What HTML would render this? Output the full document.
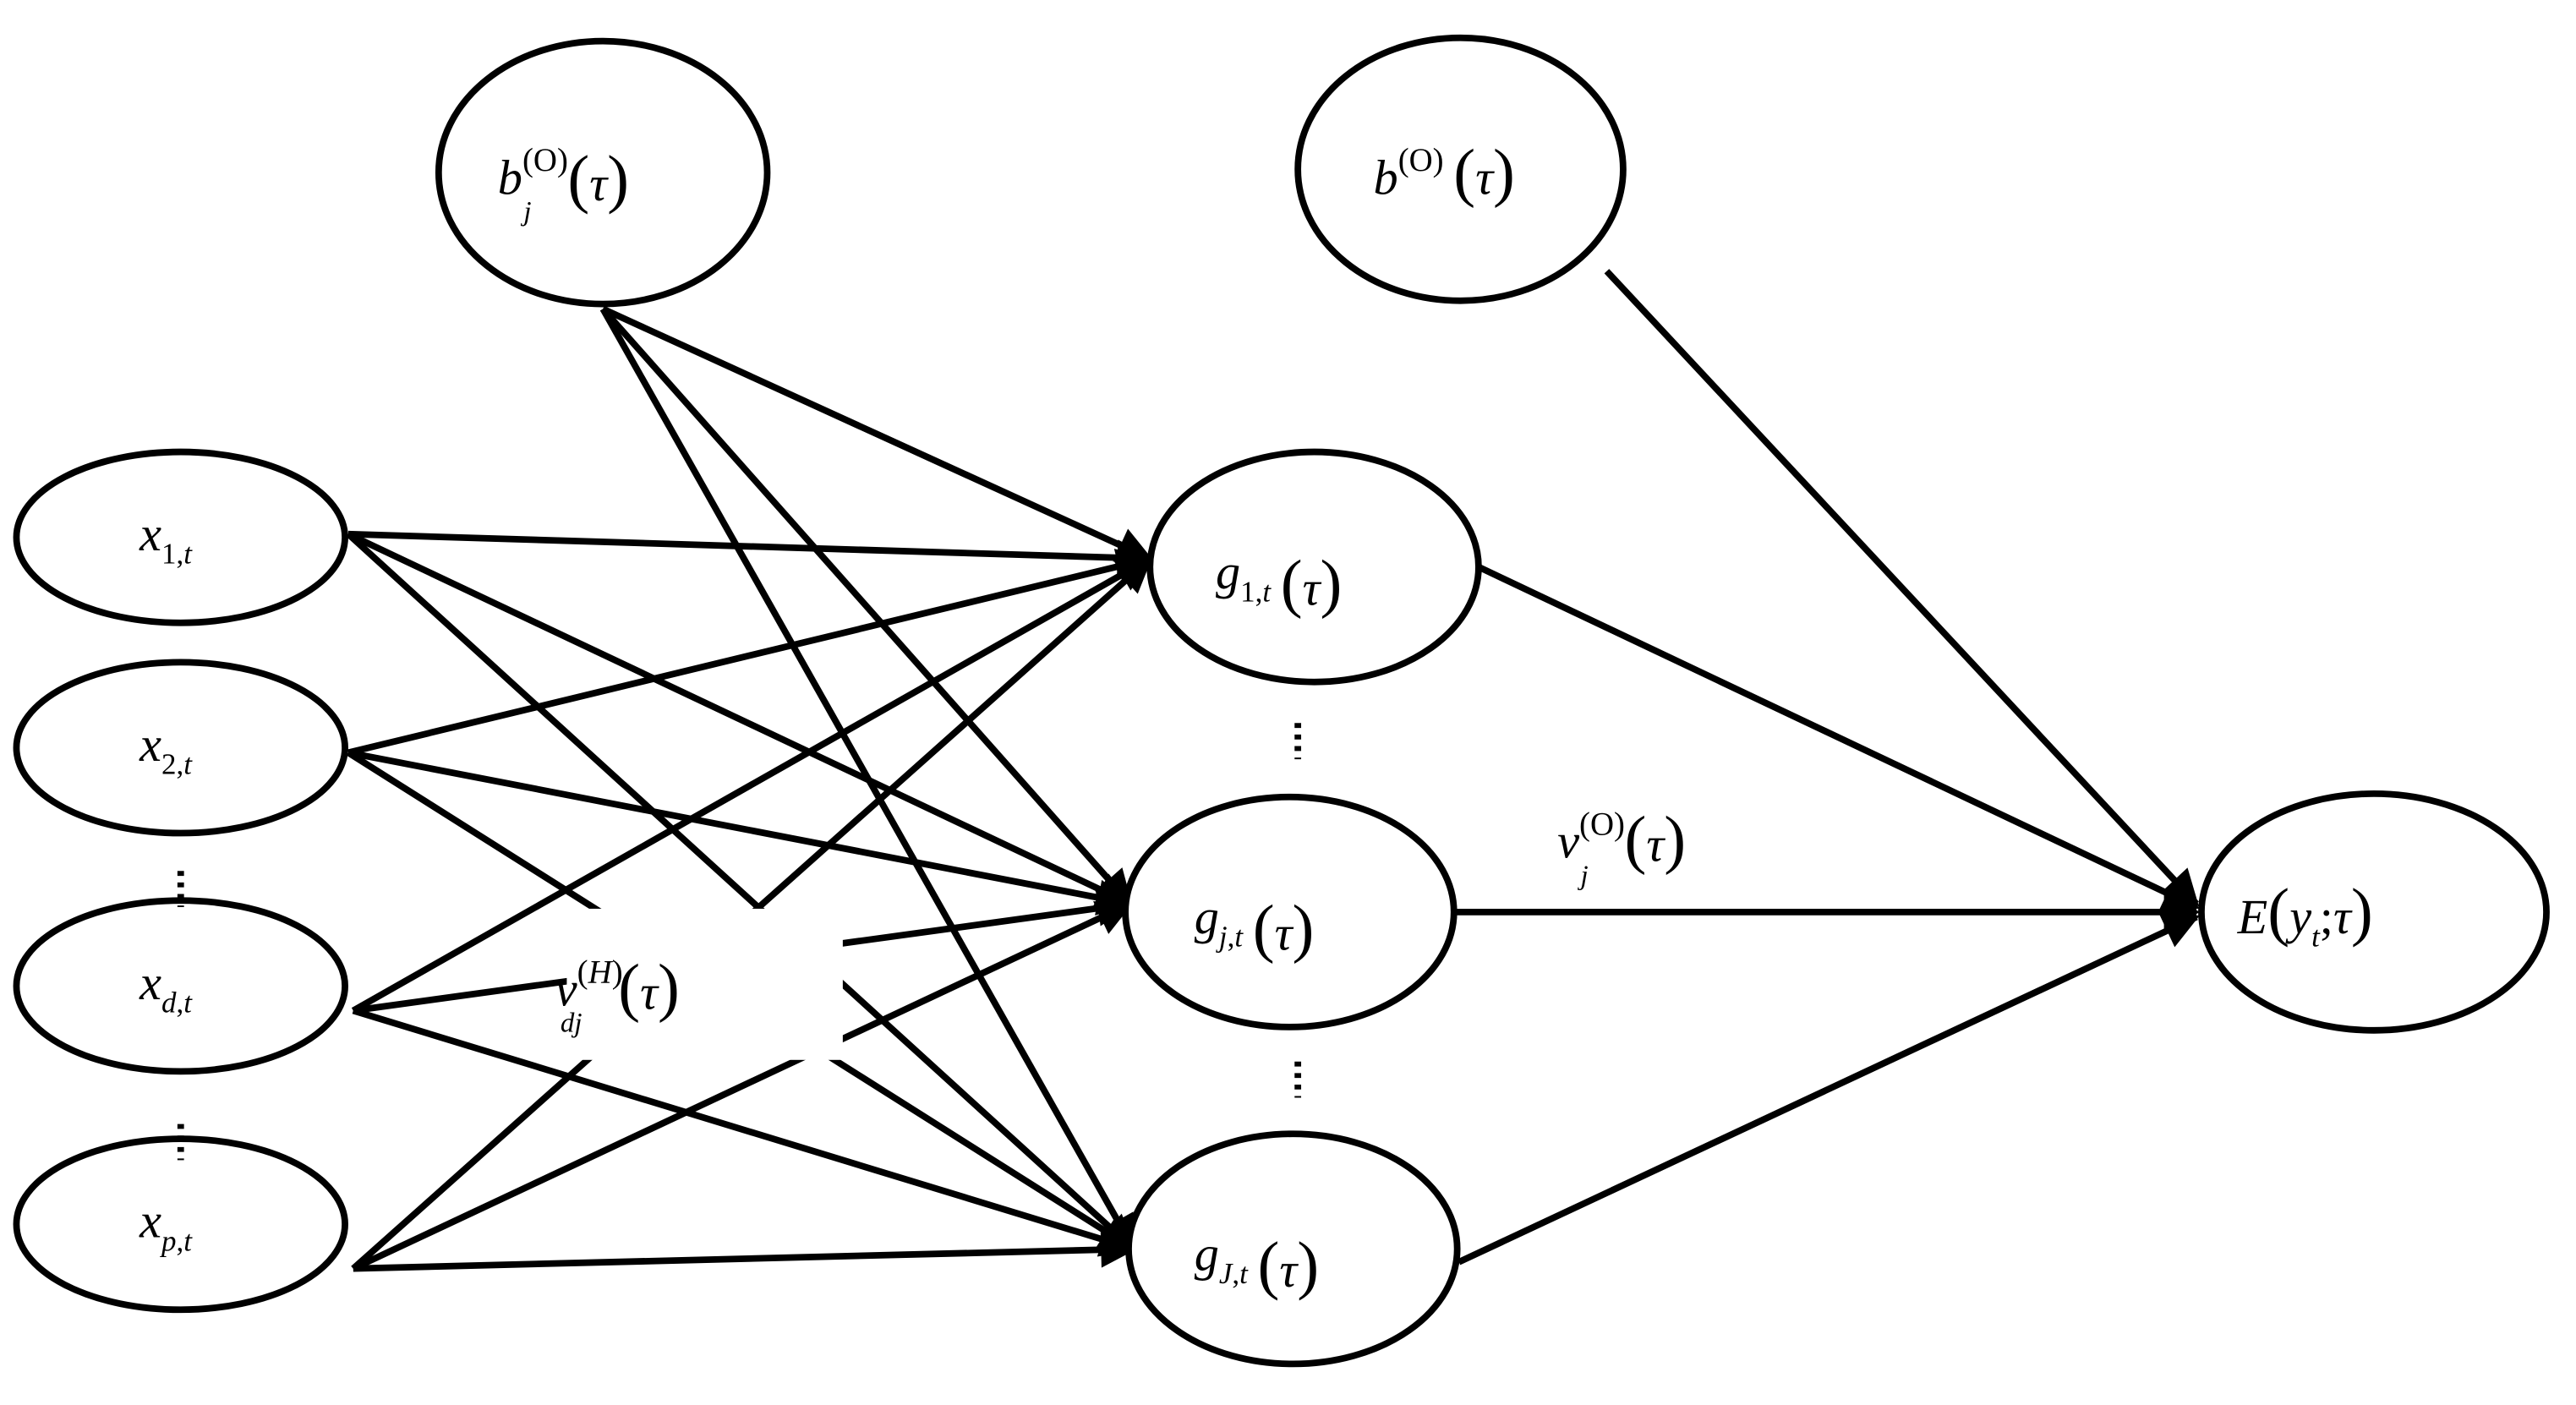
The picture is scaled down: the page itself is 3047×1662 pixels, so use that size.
<!DOCTYPE html>
<html><head><meta charset="utf-8"><style>
html,body{margin:0;padding:0;background:#fff;}
svg{display:block;}
text{font-family:"Liberation Serif",serif;font-style:italic;fill:#000;}
.n{font-style:normal;}
</style></head><body>
<svg width="3047" height="1662" viewBox="0 0 1568 855" preserveAspectRatio="none" xmlns="http://www.w3.org/2000/svg">
<defs>
<marker id="a" markerWidth="10" markerHeight="10" refX="9" refY="5" orient="auto" markerUnits="userSpaceOnUse" viewBox="0 0 10 10">
<path d="M0,0 L10,5 L0,10 z" fill="#000"/>
</marker>
<marker id="A" viewBox="0 0 10 10" refX="9" refY="5" markerWidth="26" markerHeight="22" orient="auto" markerUnits="userSpaceOnUse">
<path d="M0,0 L10,5 L0,10 z" fill="#000"/>
</marker>
</defs>
<g stroke="#000" stroke-width="4" fill="none" marker-end="url(#A)">
<!-- bias j to g -->
<line x1="367" y1="188" x2="700" y2="340"/>
<line x1="367" y1="188" x2="688" y2="550"/>
<line x1="367" y1="188" x2="690" y2="760"/>
<!-- x1 -->
<line x1="212" y1="325" x2="700" y2="340"/>
<line x1="212" y1="325" x2="688" y2="550"/>
<line x1="212" y1="325" x2="690" y2="760"/>
<!-- x2 -->
<line x1="212" y1="458" x2="700" y2="340"/>
<line x1="212" y1="458" x2="688" y2="550"/>
<line x1="212" y1="458" x2="690" y2="760"/>
<!-- xd -->
<line x1="215" y1="615" x2="700" y2="340"/>
<line x1="215" y1="615" x2="688" y2="550"/>
<line x1="215" y1="615" x2="690" y2="760"/>
<!-- xp -->
<line x1="215" y1="772" x2="700" y2="340"/>
<line x1="215" y1="772" x2="688" y2="550"/>
<line x1="215" y1="772" x2="690" y2="760"/>
<!-- right -->
<line x1="978" y1="165" x2="1337" y2="550"/>
<line x1="900" y1="345" x2="1337" y2="552"/>
<line x1="885" y1="555" x2="1337" y2="555"/>
<line x1="888" y1="768" x2="1337" y2="558"/>
</g>
<rect x="345" y="553" width="168" height="92" fill="#fff"/>
<g stroke="#000" stroke-width="4" fill="#fff">
<ellipse cx="367" cy="105" rx="100" ry="80"/>
<ellipse cx="889" cy="103" rx="99" ry="80"/>
<ellipse cx="110" cy="327" rx="100" ry="52"/>
<ellipse cx="110" cy="455" rx="100" ry="52"/>
<ellipse cx="110" cy="600" rx="100" ry="52"/>
<ellipse cx="110" cy="745" rx="100" ry="52"/>
<ellipse cx="800" cy="345" rx="100" ry="70"/>
<ellipse cx="785" cy="555" rx="100" ry="70"/>
<ellipse cx="787" cy="760" rx="100" ry="70"/>
<ellipse cx="1445" cy="555" rx="105" ry="72"/>
</g>
<g stroke="#000" stroke-width="4" stroke-dasharray="3,4">
<line x1="110" y1="530" x2="110" y2="552"/>
<line x1="110" y1="684" x2="110" y2="706"/>
<line x1="790" y1="440" x2="790" y2="462"/>
<line x1="790" y1="646" x2="790" y2="668"/>
</g>
<g font-size="30">
<text x="303" y="118">b<tspan font-size="20" dy="-14" class="n">(O)</tspan><tspan font-size="17" dx="-27" dy="30">j</tspan><tspan class="n" font-size="40" dx="22" dy="-12">(</tspan>τ<tspan class="n" font-size="40">)</tspan></text>
<text x="836" y="118">b<tspan font-size="20" dy="-14" class="n">(O)</tspan><tspan class="n" font-size="40" dx="6" dy="14">(</tspan>τ<tspan class="n" font-size="40">)</tspan></text>
<text x="85" y="335">x<tspan font-size="18" class="n" dy="8">1,</tspan><tspan font-size="18" dy="0">t</tspan></text>
<text x="85" y="463">x<tspan font-size="18" class="n" dy="8">2,</tspan><tspan font-size="18">t</tspan></text>
<text x="85" y="608">x<tspan font-size="18" dy="8">d</tspan><tspan font-size="18" class="n">,</tspan><tspan font-size="18">t</tspan></text>
<text x="85" y="753">x<tspan font-size="18" dy="8">p</tspan><tspan font-size="18" class="n">,</tspan><tspan font-size="18">t</tspan></text>
<text x="740" y="358">g<tspan font-size="18" class="n" dy="8">1,</tspan><tspan font-size="18">t</tspan><tspan class="n" font-size="40" dx="6" dy="2">(</tspan>τ<tspan class="n" font-size="40">)</tspan></text>
<text x="727" y="568">g<tspan font-size="18" dy="8">j</tspan><tspan font-size="18" class="n">,</tspan><tspan font-size="18">t</tspan><tspan class="n" font-size="40" dx="6" dy="2">(</tspan>τ<tspan class="n" font-size="40">)</tspan></text>
<text x="727" y="773">g<tspan font-size="18" dy="8">J</tspan><tspan font-size="18" class="n">,</tspan><tspan font-size="18">t</tspan><tspan class="n" font-size="40" dx="6" dy="2">(</tspan>τ<tspan class="n" font-size="40">)</tspan></text>
<text x="1362" y="568">E<tspan class="n" font-size="40">(</tspan>y<tspan font-size="18" dy="8">t</tspan><tspan class="n" dy="-8">;</tspan>τ<tspan class="n" font-size="40">)</tspan></text>
<text x="338" y="612">v<tspan font-size="20" dy="-14" class="n">(</tspan><tspan font-size="20">H</tspan><tspan font-size="20" class="n">)</tspan><tspan font-size="17" dx="-38" dy="30">dj</tspan><tspan class="n" font-size="40" dx="22" dy="-14">(</tspan>τ<tspan class="n" font-size="40">)</tspan></text>
<text x="948" y="522">v<tspan font-size="20" dy="-14" class="n">(O)</tspan><tspan font-size="17" dx="-27" dy="30">j</tspan><tspan class="n" font-size="40" dx="22" dy="-14">(</tspan>τ<tspan class="n" font-size="40">)</tspan></text>
</g>
</svg>
</body></html>
